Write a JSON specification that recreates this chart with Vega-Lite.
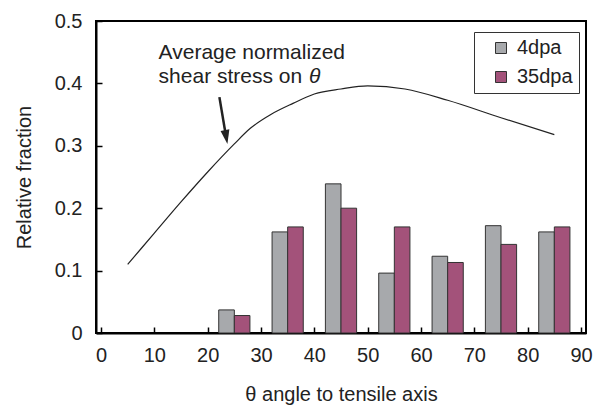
{
  "$schema": "https://vega.github.io/schema/vega-lite/v6.json",
  "autosize": "none",
  "width": 490,
  "height": 312,
  "padding": {"left": 96, "top": 21, "right": 17, "bottom": 72},
  "background": "white",
  "config": {
    "font": "Liberation Sans",
    "view": {"stroke": "black", "strokeWidth": 2},
    "axis": {
      "domainColor": "black", "domainWidth": 2, "grid": false,
      "tickColor": "black", "tickWidth": 1.5, "tickSize": -6,
      "labelFont": "Liberation Sans", "labelFontSize": 20, "labelColor": "#222",
      "titleFont": "Liberation Sans", "titleFontSize": 20, "titleFontWeight": "normal", "titleColor": "#222"
    }
  },
  "datasets": {
    "bars": [
      {"angle": 25, "series": "4dpa", "fraction": 0.037},
      {"angle": 25, "series": "35dpa", "fraction": 0.028},
      {"angle": 35, "series": "4dpa", "fraction": 0.162},
      {"angle": 35, "series": "35dpa", "fraction": 0.170},
      {"angle": 45, "series": "4dpa", "fraction": 0.239},
      {"angle": 45, "series": "35dpa", "fraction": 0.200},
      {"angle": 55, "series": "4dpa", "fraction": 0.096},
      {"angle": 55, "series": "35dpa", "fraction": 0.170},
      {"angle": 65, "series": "4dpa", "fraction": 0.123},
      {"angle": 65, "series": "35dpa", "fraction": 0.113},
      {"angle": 75, "series": "4dpa", "fraction": 0.172},
      {"angle": 75, "series": "35dpa", "fraction": 0.142},
      {"angle": 85, "series": "4dpa", "fraction": 0.162},
      {"angle": 85, "series": "35dpa", "fraction": 0.170}
    ],
    "curve": [
      {"angle": 5, "stress": 0.110},
      {"angle": 10, "stress": 0.160},
      {"angle": 15, "stress": 0.210},
      {"angle": 20, "stress": 0.258},
      {"angle": 25, "stress": 0.303},
      {"angle": 28, "stress": 0.328},
      {"angle": 32, "stress": 0.351},
      {"angle": 36, "stress": 0.368},
      {"angle": 40, "stress": 0.383},
      {"angle": 45, "stress": 0.391},
      {"angle": 50, "stress": 0.396},
      {"angle": 57, "stress": 0.391},
      {"angle": 65, "stress": 0.373},
      {"angle": 75, "stress": 0.345},
      {"angle": 85, "stress": 0.318}
    ],
    "arrow": [
      {"angle": 22.2, "value": 0.378},
      {"angle": 23.5, "value": 0.312}
    ],
    "arrowhead": [
      {"angle": 23.7, "value": 0.303}
    ],
    "notes": [
      {"angle": 10.8, "value": 0.448, "label": "Average normalized"},
      {"angle": 10.8, "value": 0.410, "label": "shear stress on"}
    ],
    "theta": [
      {"angle": 39.0, "value": 0.410, "label": "θ"}
    ]
  },
  "encoding": {
    "x": {"field": "angle", "type": "quantitative",
      "scale": {"domain": [0, 90], "nice": false, "zero": false},
      "axis": {"values": [0,10,20,30,40,50,60,70,80,90], "labelPadding": 18, "title": "θ angle to tensile axis", "titlePadding": 19}},
    "y": {"type": "quantitative"}
  },
  "layer": [
    {
      "data": {"name": "bars"},
      "transform": [{"filter": "datum.series === '4dpa'"}],
      "mark": {"type": "bar", "width": 15.6, "xOffset": -7.8, "stroke": "#333", "strokeWidth": 1},
      "encoding": {
        "y": {"field": "fraction", "type": "quantitative",
          "scale": {"domain": [0, 0.5], "nice": false},
          "axis": {"values": [0, 0.1, 0.2, 0.3, 0.4, 0.5], "format": ".1~f", "labelPadding": 20, "title": "Relative fraction", "titlePadding": 20}},
        "color": {"field": "series", "type": "nominal",
          "scale": {"domain": ["4dpa", "35dpa"], "range": ["#a7a9ac", "#a3527a"]},
          "legend": {
            "title": null, "orient": "none", "legendX": 378, "legendY": 11,
            "direction": "vertical",
            "strokeColor": "#333", "fillColor": "white", "padding": 6,
            "symbolType": "square", "symbolSize": 121, "symbolStrokeColor": "#333", "symbolStrokeWidth": 1,
            "symbolOffset": 11, "labelFontSize": 20, "labelColor": "#222", "labelOffset": 6,
            "rowPadding": 9,
            "labelExpr": "datum.label + '\u00a0\u00a0\u00a0'"
          }}
      }
    },
    {
      "data": {"name": "bars"},
      "transform": [{"filter": "datum.series === '35dpa'"}],
      "mark": {"type": "bar", "width": 15.6, "xOffset": 7.8, "stroke": "#333", "strokeWidth": 1},
      "encoding": {
        "y": {"field": "fraction", "type": "quantitative"},
        "color": {"field": "series", "type": "nominal"}
      }
    },
    {
      "data": {"name": "curve"},
      "mark": {"type": "line", "color": "#222", "strokeWidth": 1.2, "interpolate": "monotone"},
      "encoding": {
        "y": {"field": "stress", "type": "quantitative"}
      }
    },
    {
      "data": {"name": "arrow"},
      "mark": {"type": "line", "color": "#222", "strokeWidth": 2.5},
      "encoding": {
        "y": {"field": "value", "type": "quantitative"}
      }
    },
    {
      "data": {"name": "arrowhead"},
      "mark": {"type": "point", "shape": "M0,0 L-0.32,-1 L0.32,-1 Z", "size": 784, "angle": 350, "filled": true, "color": "#222", "opacity": 1, "strokeWidth": 0},
      "encoding": {
        "y": {"field": "value", "type": "quantitative"}
      }
    },
    {
      "data": {"name": "notes"},
      "mark": {"type": "text", "align": "left", "baseline": "middle", "fontSize": 21, "color": "#222", "font": "Liberation Sans"},
      "encoding": {
        "y": {"field": "value", "type": "quantitative"},
        "text": {"field": "label"}
      }
    },
    {
      "data": {"name": "theta"},
      "mark": {"type": "text", "align": "left", "baseline": "middle", "fontSize": 21, "fontStyle": "italic", "color": "#222", "font": "Liberation Sans"},
      "encoding": {
        "y": {"field": "value", "type": "quantitative"},
        "text": {"field": "label"}
      }
    }
  ]
}
